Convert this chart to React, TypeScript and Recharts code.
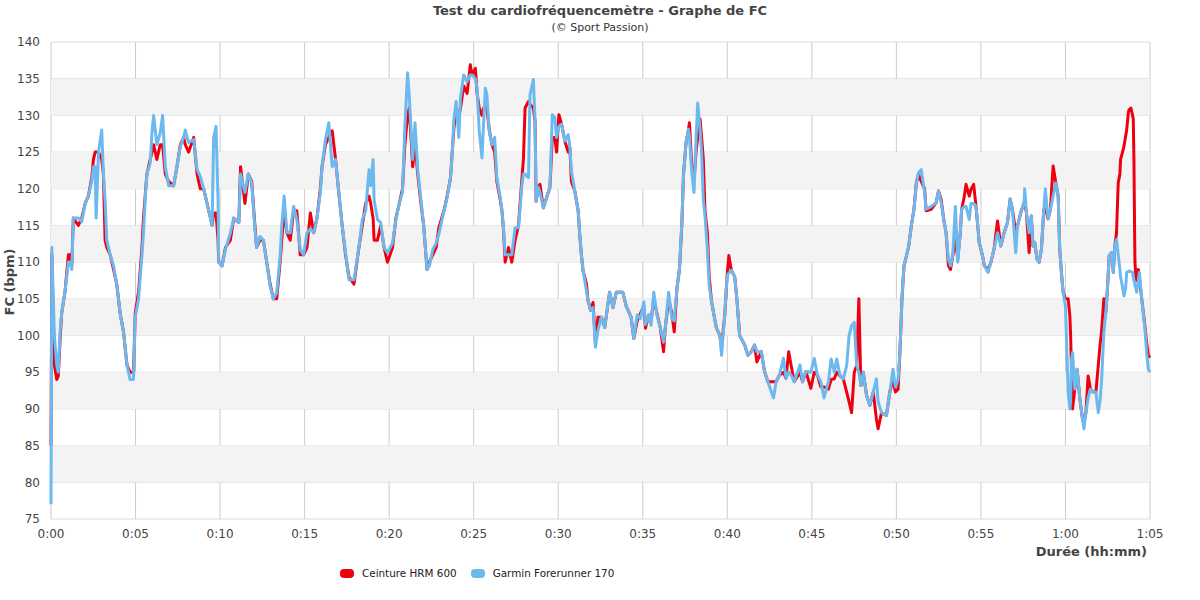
import React from "react";
import { LineChart, Line, XAxis, YAxis, CartesianGrid, ReferenceArea } from "recharts";

// elapsed time in minutes
const minutes = [
  0, 0.05, 0.2, 0.34, 0.43, 0.55, 0.63, 0.83, 1.03, 1.15, 1.23, 1.32, 1.62, 1.82, 2.02, 2.21, 2.41, 2.51, 2.61, 2.67,
  2.81, 3.0, 3.1, 3.2, 3.3, 3.5, 3.7, 3.89, 4.09, 4.29, 4.49, 4.68, 4.88, 4.98, 5.18, 5.38, 5.47, 5.57, 5.67, 5.87,
  5.97, 6.07, 6.26, 6.46, 6.6, 6.76, 6.96, 7.25, 7.45, 7.65, 7.85, 7.94, 8.14, 8.44, 8.64, 8.83, 9.03, 9.33, 9.53, 9.62,
  9.76, 9.88, 9.92, 10.12, 10.32, 10.61, 10.81, 11.11, 11.21, 11.47, 11.67, 11.87, 12.06, 12.16, 12.36, 12.56, 12.76, 12.96, 13.15, 13.35,
  13.55, 13.65, 13.79, 13.95, 14.15, 14.35, 14.54, 14.74, 14.94, 15.14, 15.34, 15.54, 15.73, 15.93, 16.03, 16.23, 16.43, 16.63, 16.83, 17.02,
  17.22, 17.42, 17.62, 17.92, 18.21, 18.41, 18.61, 18.81, 18.91, 19.05, 19.11, 19.31, 19.5, 19.7, 19.9, 20.2, 20.4, 20.6, 20.79, 20.93,
  21.09, 21.19, 21.39, 21.53, 21.69, 21.88, 22.04, 22.24, 22.38, 22.58, 22.78, 22.94, 23.24, 23.43, 23.63, 23.73, 23.82, 23.96, 24.12, 24.22,
  24.41, 24.61, 24.8, 24.9, 25.1, 25.2, 25.33, 25.49, 25.59, 25.69, 25.78, 25.92, 26.08, 26.24, 26.37, 26.57, 26.67, 26.76, 26.86, 27.06,
  27.25, 27.45, 27.65, 27.84, 27.94, 28.04, 28.24, 28.33, 28.53, 28.63, 28.69, 28.82, 28.92, 29.12, 29.31, 29.51, 29.65, 29.8, 29.9, 30.04,
  30.2, 30.39, 30.59, 30.69, 30.78, 30.98, 31.18, 31.27, 31.37, 31.47, 31.67, 31.76, 31.92, 32.06, 32.2, 32.35, 32.55, 32.75, 32.94, 33.04,
  33.24, 33.43, 33.82, 34.02, 34.31, 34.47, 34.67, 34.86, 35.06, 35.16, 35.35, 35.49, 35.65, 35.84, 36.04, 36.23, 36.33, 36.53, 36.72, 36.86,
  37.02, 37.17, 37.31, 37.41, 37.56, 37.7, 37.76, 37.9, 38.03, 38.15, 38.25, 38.39, 38.48, 38.58, 38.68, 38.82, 38.93, 39.07, 39.21, 39.36,
  39.56, 39.66, 39.85, 39.99, 40.09, 40.24, 40.44, 40.58, 40.73, 41.03, 41.22, 41.42, 41.61, 41.75, 42.01, 42.2, 42.4, 42.73, 42.89, 43.08,
  43.32, 43.47, 43.63, 43.77, 43.96, 44.3, 44.45, 44.65, 44.94, 45.14, 45.33, 45.53, 45.72, 45.98, 46.14, 46.33, 46.47, 46.67, 46.86, 47.06,
  47.2, 47.35, 47.51, 47.65, 47.78, 47.9, 48.04, 48.24, 48.43, 48.63, 48.82, 48.92, 49.12, 49.41, 49.61, 49.8, 49.94, 50.1, 50.2, 50.33,
  50.45, 50.59, 50.73, 50.88, 51.04, 51.18, 51.31, 51.47, 51.67, 51.76, 52.06, 52.35, 52.49, 52.65, 52.8, 52.94, 53.08, 53.2, 53.33, 53.49,
  53.63, 53.78, 53.86, 54.02, 54.12, 54.31, 54.41, 54.57, 54.71, 54.9, 55.1, 55.2, 55.43, 55.59, 55.78, 55.98, 56.18, 56.37, 56.57, 56.73,
  56.86, 57.06, 57.16, 57.35, 57.55, 57.59, 57.69, 57.85, 57.98, 58.08, 58.18, 58.32, 58.44, 58.58, 58.72, 58.81, 58.97, 59.11, 59.27, 59.43,
  59.57, 59.66, 59.76, 59.86, 60.0, 60.16, 60.26, 60.3, 60.36, 60.42, 60.55, 60.69, 60.85, 61.01, 61.09, 61.21, 61.34, 61.48, 61.64, 61.8,
  61.94, 62.04, 62.13, 62.27, 62.39, 62.47, 62.59, 62.73, 62.83, 62.92, 63.02, 63.12, 63.22, 63.26, 63.42, 63.46, 63.56, 63.62, 63.72, 63.77,
  63.87, 63.97, 64.01, 64.05, 64.09, 64.11, 64.17, 64.21, 64.31, 64.37, 64.51, 64.7, 64.8, 64.9, 65.0,
];

// Ceinture HRM 600 (bpm)
const hrm600 = [
  85, 111, 96, 94, 94.5, 100, 103, 106, 111, 111, 109.5, 116, 115, 116, 118, 119, 121.5, 124, 125, 125,
  125, 124, 122, 113, 112, 111, 109, 107, 103, 100.5, 96, 95, 95, 103, 106, 112, 116, 119, 122, 124,
  125, 126, 124, 126, 126, 122, 121, 120.4, 123, 126, 127, 126, 125, 127, 122, 120, 120, 117, 115, 116.7,
  116.7, 113, 110, 109.5, 112, 113, 116, 115.4, 123, 118, 122, 121, 115, 112, 113, 113, 110, 107, 105, 105,
  110, 113, 117, 114, 113, 117, 117, 111, 111, 112, 116.7, 114, 116, 120, 123, 126, 127, 127.9, 124, 119.5,
  115, 111, 108, 107, 112, 115, 118, 119, 118, 116, 113, 113, 115, 112, 110, 112, 116, 118, 120, 126,
  130, 131, 123, 126, 122, 118, 115, 109, 110, 111, 112, 114.7, 117, 119, 121.5, 125, 128, 131, 130, 131,
  134, 133, 136.9, 135.5, 136.4, 133, 131, 130, 131, 131, 131, 128, 126, 125, 121, 118.5, 117, 114.5, 110, 112,
  110, 113, 115, 121, 124, 131, 131.9, 131.5, 131, 129.2, 118.3, 120.2, 120.6, 117.4, 118.8, 120.2, 127, 127, 125, 130.1,
  128.8, 126.5, 125, 125.6, 121, 119.7, 117, 113.8, 111, 108.8, 107, 104.8, 103.4, 104.5, 99, 102.5, 102.5, 101.1, 104.3, 105.9,
  103.8, 105.9, 105.9, 104, 102.5, 99.6, 102, 103, 104, 101, 102.8, 102, 105, 103, 101, 97.8, 101, 105, 103, 100.5,
  106.4, 109, 115, 122, 126.3, 128, 129, 123, 121, 125, 127, 129.5, 127, 124, 117, 114, 108, 104.6, 102.8, 101,
  100, 98.5, 102.8, 108.2, 110.9, 108.9, 108, 104.6, 100, 98.7, 97.3, 97.8, 98.7, 96.4, 97.8, 95.1, 93.7, 93.7, 93.7, 94.6,
  95, 94.2, 97.8, 96, 93.7, 95, 93.7, 95.1, 92.8, 95, 94.6, 93, 93, 92.7, 94, 94.1, 95, 94.5, 94.1, 92.3,
  91, 89.5, 95, 95.9, 105, 93.2, 95, 91.8, 90.5, 92.3, 88.6, 87.3, 89.5, 89.1, 92.3, 94, 92.3, 92.7, 97.3, 105,
  109.5, 110.8, 112.2, 114.9, 117.2, 120.8, 122, 121, 120, 117, 117.2, 118.1, 119.7, 118.5, 115.8, 114, 109.5, 109, 110.8, 113,
  110.5, 114, 117.2, 119, 120.6, 119, 119.9, 120.6, 117.6, 112.7, 110.8, 109.5, 109, 110, 111.8, 115.6, 112.2, 114, 115.4, 118.6,
  117.2, 114, 114.9, 116.7, 118.1, 118, 116.8, 111.3, 116.3, 112.2, 112.7, 110.4, 110, 111.8, 117.2, 117.5, 115.9, 117.2, 123.1, 120.8,
  119, 111.8, 108.6, 105.9, 105, 105, 102.7, 100.4, 95, 90, 92.7, 95.4, 91.4, 88.6, 88, 89.5, 94.5, 92.7, 92.3, 92.3,
  95.9, 98.6, 100.4, 105, 103.2, 105.9, 110.9, 111.3, 108.6, 112.2, 114, 120.8, 122, 124, 125.4, 125.8, 127.2, 128, 130.4, 130.8,
  131, 130, 129.5, 124, 114, 110, 107.7, 107.5, 109, 108, 105, 101.3, 99.1, 97.3, 97,
];

// Garmin Forerunner 170 (bpm)
const forerunner170 = [
  77, 112, 100, 96, 95, 101, 103, 106, 110, 110, 109, 116, 116, 115.5, 118, 119, 121, 123, 123, 116,
  125, 128, 122, 118.5, 113, 111, 109.5, 107, 103, 100.5, 96, 94, 94, 102.5, 105, 111, 114, 118.5, 122, 123.5,
  127.6, 130, 126, 127.6, 130, 123, 120.4, 120.4, 123, 125.8, 127, 128, 126.3, 126.7, 122.6, 121.7, 120, 117, 115, 127,
  128.5, 118.5, 110, 109.5, 111.7, 114, 116, 115.4, 122, 119.5, 122, 120.8, 114.5, 112, 113.5, 113, 110, 106.7, 105, 105.8,
  110.8, 115, 119, 114, 114, 117.6, 115.8, 111.7, 111, 114, 114.5, 114, 116, 119.5, 123, 126.7, 129, 123, 124, 119.5,
  115, 111.3, 107.6, 107.6, 112, 115.8, 117, 122.6, 120.4, 124, 118.5, 115.8, 115.4, 112, 111.3, 112.6, 115.8, 118, 119.5, 128.5,
  135.8, 132.6, 124, 129, 122.6, 118.5, 115, 109, 109.5, 111.7, 112.6, 113.8, 117, 118.8, 121.5, 124.7, 129.2, 131.9, 127, 132.4,
  135.5, 134.6, 135.5, 135.5, 135, 133.7, 127.8, 124.2, 129.2, 133.7, 132.8, 127.8, 126, 127, 121.5, 118.8, 117, 114.7, 111, 111,
  111, 114.7, 114.7, 120.2, 122, 122, 121.5, 132.8, 134.9, 129.2, 118.3, 120.2, 119.5, 117.4, 118.8, 120.2, 130.1, 129.7, 127, 128.5,
  128.8, 126.5, 127.4, 125.6, 122.4, 119.7, 117, 113.8, 111, 108.8, 106.1, 104.8, 103.4, 103.8, 98.4, 100.7, 102.5, 101.1, 104.3, 105.9,
  103.8, 105.9, 105.9, 104, 102.5, 99.6, 102.8, 102.3, 104.6, 101.5, 102.8, 101.4, 105.9, 102.8, 101, 99.1, 101, 105.9, 102.3, 102,
  106.4, 109.1, 115.4, 121.8, 126.3, 128.1, 127, 122.2, 119.5, 126.7, 131.7, 128, 124.9, 118.6, 116.3, 111.8, 106.8, 104.6, 102.8, 101,
  100, 97.3, 102.8, 108.2, 108.5, 108.9, 108, 104.6, 100, 98.7, 97.3, 97.8, 98.7, 97.8, 97.8, 95.1, 93.7, 91.5, 93.7, 94.6,
  96.9, 94.2, 95, 94.6, 93.7, 96, 93.7, 95.1, 95, 96.9, 94.6, 93.7, 91.5, 93.7, 96.8, 95, 96.8, 94.5, 94.1, 95.9,
  100, 101.3, 101.8, 95.9, 95, 93.2, 95, 91.8, 90.5, 92.3, 94.1, 91, 89.5, 89.1, 92.3, 95.4, 93, 94, 97.3, 105,
  109.5, 110.8, 112.2, 114.9, 117.2, 120.8, 122.2, 122.6, 119.5, 117.2, 117.6, 118.1, 119.7, 118.1, 115.8, 114, 110.4, 109.5, 110.8, 117.6,
  110, 114, 117.2, 117.6, 117.6, 115.8, 118, 118, 117.6, 112.7, 110.8, 109.5, 108.6, 110, 111.8, 114, 112.2, 114, 115.4, 118.6,
  117.2, 111.3, 114.9, 116.7, 118.1, 120, 116.8, 114, 116.3, 112.2, 112.7, 110.4, 110, 111.8, 117.2, 120, 115.9, 117.2, 119, 120.8,
  119, 111.8, 108.6, 105.9, 104, 92.3, 90, 91, 96.8, 97.7, 92.7, 95.4, 91.4, 88.6, 87.3, 89.5, 91.5, 92.7, 92.3, 92.3,
  89.5, 91, 93.6, 100.4, 103.2, 105.9, 110.9, 111.3, 108.6, 112.2, 113.1, 111, 109, 108, 106, 105.4, 106.5, 108.6, 108.7, 108.8,
  108.7, 108.6, 108, 107.5, 107.2, 106.8, 106.4, 105.9, 107.5, 108.6, 105, 100.9, 97.7, 95.4, 95,
];

const yTicks = [75, 80, 85, 90, 95, 100, 105, 110, 115, 120, 125, 130, 135, 140];
const xTicks = [0, 5, 10, 15, 20, 25, 30, 35, 40, 45, 50, 55, 60, 65];
// shaded horizontal bands
const bands = [
  [80, 85],
  [90, 95],
  [100, 105],
  [110, 115],
  [120, 125],
  [130, 135],
];

const data = minutes.map((t, i) => ({ t, hrm: hrm600[i], garmin: forerunner170[i] }));

const FONT = "'DejaVu Sans', Verdana, sans-serif";
const RED = "#ee0010";
const BLUE = "#6cb9f0";

function formatDuration(m: number) {
  const h = Math.floor(m / 60);
  const mm = m % 60;
  return `${h}:${String(mm).padStart(2, "0")}`;
}

export default function App() {
  const tickStyle = { fontSize: 12, fill: "#444", fontFamily: FONT };
  return (
    <div
      style={{
        position: "absolute",
        left: 0,
        top: 0,
        width: 1200,
        height: 600,
        background: "#fff",
        fontFamily: FONT,
        color: "#444",
      }}
    >
      <div style={{ position: "absolute", top: 3, width: 1200, textAlign: "center", fontSize: 13, fontWeight: "bold", lineHeight: "16px" }}>
        Test du cardiofréquencemètre - Graphe de FC
      </div>
      <div style={{ position: "absolute", top: 21, width: 1200, textAlign: "center", fontSize: 11, lineHeight: "14px", color: "#333" }}>
        (© Sport Passion)
      </div>

      <LineChart width={1200} height={600} data={data} margin={{ top: 42, right: 50, bottom: 51, left: 0 }}>
        {bands.map(([a, b]) => (
          <ReferenceArea key={a} y1={a} y2={b} fill="#f3f3f3" fillOpacity={1} stroke="none" />
        ))}
        <CartesianGrid vertical={false} stroke="#dddddd" />
        <CartesianGrid horizontal={false} stroke="#cccccc" />
        <XAxis
          dataKey="t"
          type="number"
          domain={[0, 65]}
          ticks={xTicks}
          interval={0}
          tickFormatter={formatDuration}
          axisLine={false}
          tickLine={false}
          tick={tickStyle}
          tickMargin={4}
          height={30}
        />
        <YAxis
          domain={[75, 140]}
          ticks={yTicks}
          interval={0}
          axisLine={false}
          tickLine={false}
          tick={tickStyle}
          tickMargin={5}
          width={51}
        />
        <Line
          dataKey="hrm"
          stroke={RED}
          strokeWidth={3}
          dot={false}
          activeDot={false}
          isAnimationActive={false}
          strokeLinejoin="round"
        />
        <Line
          dataKey="garmin"
          stroke={BLUE}
          strokeWidth={3}
          dot={false}
          activeDot={false}
          isAnimationActive={false}
          strokeLinejoin="round"
        />
      </LineChart>

      <div
        style={{
          position: "absolute",
          left: 9,
          top: 282,
          transform: "translate(-50%, -50%) rotate(-90deg)",
          whiteSpace: "nowrap",
          fontSize: 13,
          fontWeight: "bold",
        }}
      >
        FC (bpm)
      </div>
      <div style={{ position: "absolute", right: 53, top: 544, fontSize: 13, fontWeight: "bold", lineHeight: "16px" }}>
        Durée (hh:mm)
      </div>

      <div
        style={{
          position: "absolute",
          left: 340,
          top: 566,
          height: 14,
          display: "flex",
          alignItems: "center",
          fontSize: 10.4,
          color: "#222",
          whiteSpace: "nowrap",
        }}
      >
        <span style={{ width: 14, height: 9, borderRadius: 4, background: RED, display: "inline-block" }} />
        <span style={{ marginLeft: 8 }}>Ceinture HRM 600</span>
        <span style={{ width: 14, height: 9, borderRadius: 4, background: BLUE, display: "inline-block", marginLeft: 14 }} />
        <span style={{ marginLeft: 8 }}>Garmin Forerunner 170</span>
      </div>
    </div>
  );
}
